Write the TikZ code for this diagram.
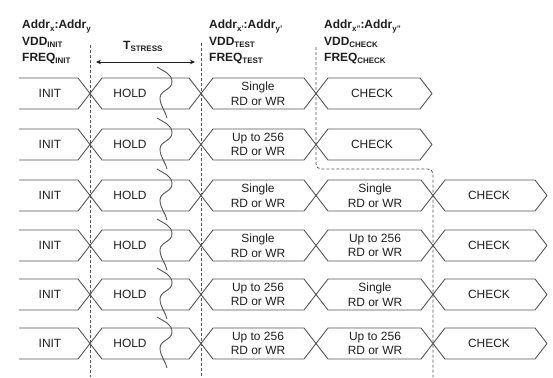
\documentclass[tikz,border=0pt]{standalone}
\usepackage{fontspec}
\setmainfont{Liberation Sans}
\usetikzlibrary{arrows.meta}
\definecolor{ln}{HTML}{555555}
\definecolor{tx}{HTML}{1E1E1E}
\newcommand\sbx[1]{\raisebox{-0.35ex}{\fontsize{8}{9}\selectfont #1}}
\begin{document}
\begin{tikzpicture}[x=1bp,y=-1bp,
  sig/.style={draw=ln,line width=0.9bp},
  wave/.style={draw=ln,line width=0.9bp},
  lbl/.style={text=tx,font=\fontsize{12}{14.5}\selectfont,align=center,inner sep=0},
  hdr/.style={text=tx,font=\bfseries\fontsize{12}{16.5}\selectfont,align=left,anchor=north west,inner sep=0},
  vline/.style={draw=ln,dash pattern=on 3bp off 2bp,line width=0.8bp}]
\useasboundingbox (0,0) rectangle (553,377);

% headers
\node[hdr] (h1) at (22,20) {Addr\sbx{x}:Addr\sbx{y}\\VDD\sbx{INIT}\\FREQ\sbx{INIT}};
\node[hdr] (h2) at (209,20) {Addr\sbx{x'}:Addr\sbx{y'}\\VDD\sbx{TEST}\\FREQ\sbx{TEST}};
\node[hdr] (h3) at (324,20) {Addr\sbx{x''}:Addr\sbx{y''}\\VDD\sbx{CHECK}\\FREQ\sbx{CHECK}};
\node[hdr,anchor=base west] (ts) at (123,49) {T\sbx{STRESS}};
\coordinate (ta) at (96,62);
\coordinate (tb) at (195,62);
\draw[draw=tx,line width=0.8bp,{Stealth[length=5bp,width=4.5bp]}-{Stealth[length=5bp,width=4.5bp]}] (ta) -- (tb);

% dashed lines
\coordinate (d1t) at (90,45); \coordinate (d1b) at (90,377);
\coordinate (d2t) at (201,43); \coordinate (d2b) at (201,377);
\coordinate (d3t) at (316,47); \coordinate (d3m) at (316,169);
\coordinate (d4m) at (433,169); \coordinate (d4b) at (433,377);
\draw[vline] (d1t) -- (d1b);
\draw[vline] (d2t) -- (d2b);
\draw[vline,rounded corners=5bp] (d3t) -- (d3m) -- (d4m) -- (d4b);

% rows 1-2
\foreach \T/\i/\txt in {78/1/Single,129/2/Up to 256}{
  \pgfmathsetmacro\B{\T+31}
  \pgfmathsetmacro\C{\T+15.5}
  \draw[sig] (19,\T) -- (78,\T) -- (102,\B) -- (189,\B) -- (213,\T) -- (304,\T) -- (328,\B) -- (420,\B) -- (432,\C);
  \draw[sig] (19,\B) -- (78,\B) -- (102,\T) -- (189,\T) -- (213,\B) -- (304,\B) -- (328,\T) -- (420,\T) -- (432,\C);
  \draw[wave] (157,\T-11) .. controls (165,\T-6) and (172,\T-4) .. (172,\T+4)
     .. controls (172,\T+12) and (160,\T+12) .. (160,\T+20)
     .. controls (160,\T+28) and (166,\T+34) .. (167,\T+40);
  \node[lbl] (init\i) at (50,\C) {INIT};
  \node[lbl] (hold\i) at (130,\C) {HOLD};
  \node[lbl] (a\i) at (258,\C) {\txt\\RD or WR};
  \node[lbl] (chk\i) at (372,\C) {CHECK};
}

% rows 3-6
\foreach \T/\i/\txa/\txb in {180/3/Single/Single,230/4/Single/Up to 256,279/5/Up to 256/Single,328/6/Up to 256/Up to 256}{
  \pgfmathsetmacro\B{\T+31}
  \pgfmathsetmacro\C{\T+15.5}
  \draw[sig] (19,\T) -- (78,\T) -- (102,\B) -- (189,\B) -- (213,\T) -- (304,\T) -- (328,\B) -- (421,\B) -- (445,\T) -- (535,\T) -- (547,\C);
  \draw[sig] (19,\B) -- (78,\B) -- (102,\T) -- (189,\T) -- (213,\B) -- (304,\B) -- (328,\T) -- (421,\T) -- (445,\B) -- (535,\B) -- (547,\C);
  \draw[wave] (157,\T-11) .. controls (165,\T-6) and (172,\T-4) .. (172,\T+4)
     .. controls (172,\T+12) and (160,\T+12) .. (160,\T+20)
     .. controls (160,\T+28) and (166,\T+34) .. (167,\T+40);
  \node[lbl] (init\i) at (50,\C) {INIT};
  \node[lbl] (hold\i) at (130,\C) {HOLD};
  \node[lbl] (a\i) at (258,\C) {\txa\\RD or WR};
  \node[lbl] (b\i) at (375,\C) {\txb\\RD or WR};
  \node[lbl] (chk\i) at (489,\C) {CHECK};
}
\end{tikzpicture}
\end{document}
